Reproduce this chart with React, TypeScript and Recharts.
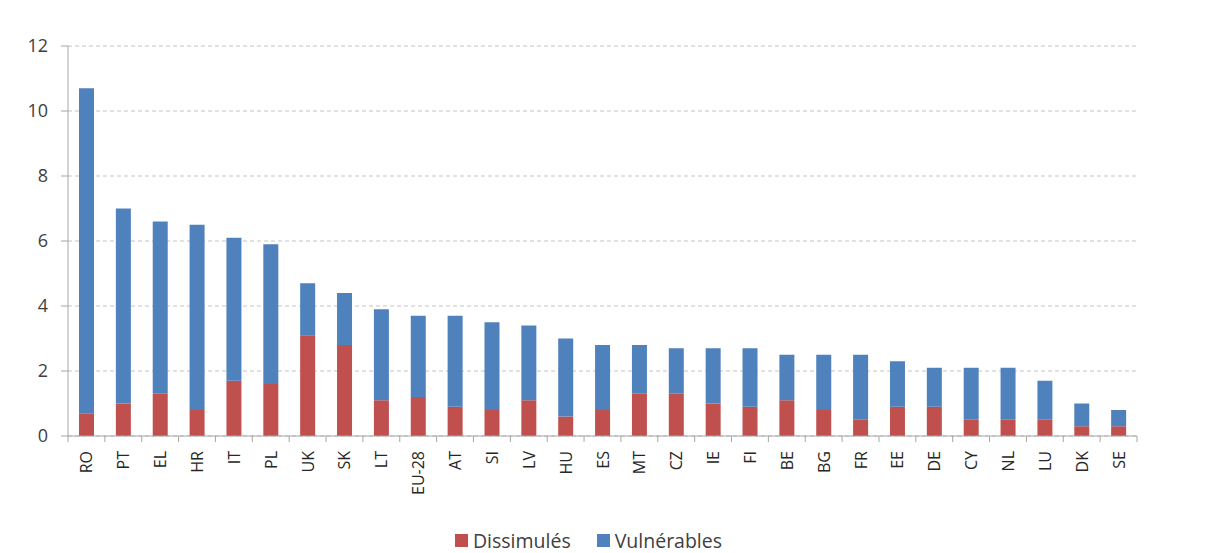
import React from 'react'
import { Bar, BarChart, CartesianGrid, Legend, XAxis, YAxis } from 'recharts'

const countries = ['RO', 'PT', 'EL', 'HR', 'IT', 'PL', 'UK', 'SK', 'LT', 'EU-28', 'AT', 'SI', 'LV', 'HU', 'ES', 'MT', 'CZ', 'IE', 'FI', 'BE', 'BG', 'FR', 'EE', 'DE', 'CY', 'NL', 'LU', 'DK', 'SE']
const dissimules = [0.7, 1.0, 1.3, 0.8, 1.7, 1.6, 3.1, 2.8, 1.1, 1.2, 0.9, 0.8, 1.1, 0.6, 0.8, 1.3, 1.3, 1.0, 0.9, 1.1, 0.8, 0.5, 0.9, 0.9, 0.5, 0.5, 0.5, 0.3, 0.3]
const vulnerables = [10.0, 6.0, 5.3, 5.7, 4.4, 4.3, 1.6, 1.6, 2.8, 2.5, 2.8, 2.7, 2.3, 2.4, 2.0, 1.5, 1.4, 1.7, 1.8, 1.4, 1.7, 2.0, 1.4, 1.2, 1.6, 1.6, 1.2, 0.7, 0.5]
const yTicks = [0, 2, 4, 6, 8, 10, 12]

const data = countries.map((c, i) => ({ pays: c, dis: dissimules[i], vul: vulnerables[i] }))

const font = '"Open Sans", "Liberation Sans", sans-serif'
const axisColor = '#a6a6a6'

// rotated label + Excel-like tick marks between categories
const XTick = ({ x, y, payload, index }: any) => {
  const off = payload.offset || 0
  const y0 = y - 8
  return (
    <g>
      <line x1={x - off} x2={x - off} y1={y0} y2={y0 + 6} stroke={axisColor} />
      {index === countries.length - 1 && (
        <line x1={x + off} x2={x + off} y1={y0} y2={y0 + 6} stroke={axisColor} />
      )}
      <text x={x} y={y + 7} transform={`rotate(-90, ${x}, ${y + 7})`} textAnchor="end" dominantBaseline="central"
        fontSize={16} fontFamily={font} fill="#262626">
        {payload.value}
      </text>
    </g>
  )
}

const LegendContent = ({ payload }: any) => (
  <div style={{ display: 'flex', justifyContent: 'center', fontFamily: font, fontSize: 19.5, color: '#404040', paddingLeft: 32 }}>
    {(payload || []).map((p: any, i: number) => (
      <div key={i} style={{ display: 'flex', alignItems: 'center', marginRight: i === 0 ? 26 : 0 }}>
        <span style={{ width: 13, height: 13, background: p.color, display: 'inline-block', marginRight: 5 }} />
        <span>{p.value}</span>
      </div>
    ))}
  </div>
)

const App = () => {
  return (
    <BarChart width={1204} height={545} data={data} margin={{ top: 38, right: 75, left: 0, bottom: 0 }}>
      <CartesianGrid vertical={false} stroke="#c4c4c4" strokeDasharray="4 3" />
      <XAxis dataKey="pays" interval={0} height={91} tick={<XTick />} tickLine={false} stroke={axisColor} />
      <YAxis domain={[0, 12]} ticks={yTicks} width={60} stroke={axisColor} tickSize={7} tickMargin={13}
        tick={{ fontSize: 18, fill: '#404040', fontFamily: font }} />
      <Legend verticalAlign="bottom" height={26} content={<LegendContent />} />
      <Bar dataKey="dis" name="Dissimulés" stackId="a" fill="#C0504D" barSize={15} isAnimationActive={false} />
      <Bar dataKey="vul" name="Vulnérables" stackId="a" fill="#4F81BD" barSize={15} isAnimationActive={false} />
    </BarChart>
  )
}

export default App
